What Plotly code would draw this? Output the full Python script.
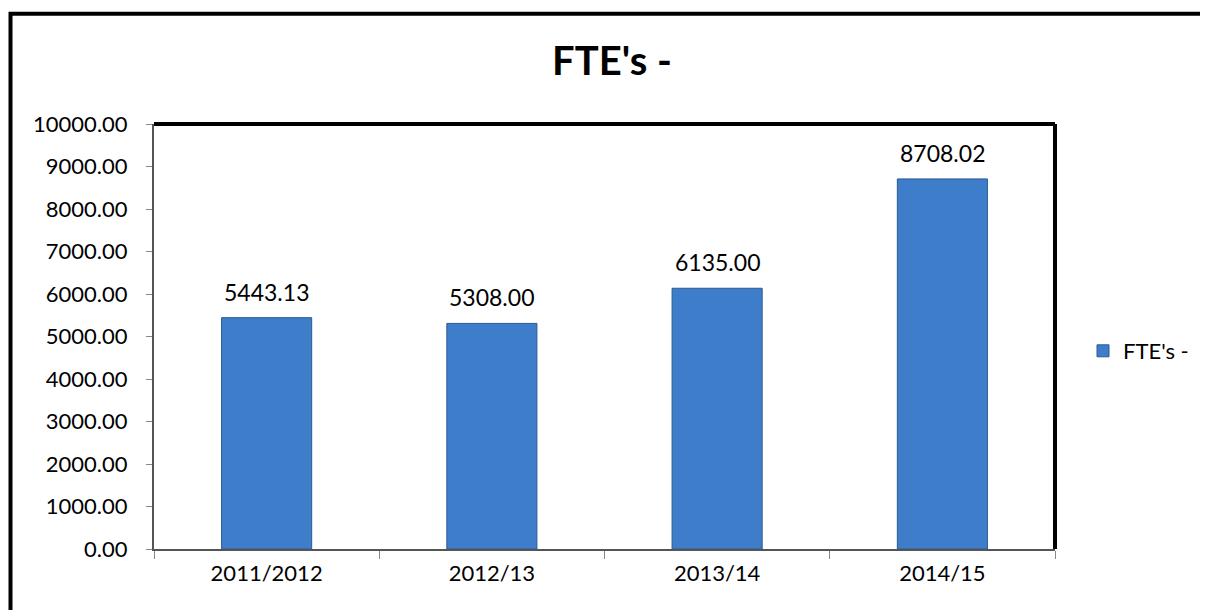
import plotly.graph_objects as go

# data
years = ["2011/2012", "2012/13", "2013/14", "2014/15"]
fte = [5443.13, 5308.00, 6135.00, 8708.02]
y_ticks = [0, 1000, 2000, 3000, 4000, 5000, 6000, 7000, 8000, 9000, 10000]

W, H = 1208, 610
L, R, T, B = 146, 161, 116, 69  # plot area margins in px


def px_x(p):
    return (p - L) / (W - L - R)


def px_y(p):
    return (H - B - p) / (H - T - B)


FONT = "Lato"

fig = go.Figure()
fig.add_trace(go.Bar(
    x=years, y=fte, name="FTE's -",
    marker=dict(color="#3E7DC9", line=dict(color="#2C5A92", width=1)),
    width=0.4,
))

# value labels above each bar
for yr, v in zip(years, fte):
    fig.add_annotation(x=yr, y=v, text=f"{v:.2f}", showarrow=False,
                       yshift=26, font=dict(family=FONT, size=23, color="#000"))

# heavy black frame on top/right of plot area
fig.add_shape(type="line", xref="paper", yref="paper", x0=0, x1=1, y0=1, y1=1,
              line=dict(color="black", width=4))
fig.add_shape(type="line", xref="paper", yref="paper", x0=1, x1=1, y0=0, y1=1,
              line=dict(color="black", width=4))
# outer chart border
fig.add_shape(type="rect", xref="paper", yref="paper",
              x0=px_x(2.5), x1=px_x(1240), y0=px_y(5.7), y1=px_y(650),
              line=dict(color="black", width=4))

fig.update_layout(
    width=W, height=H,
    margin=dict(l=L, r=R, t=T, b=B),
    paper_bgcolor="white", plot_bgcolor="white",
    title=dict(text="<b>FTE's -</b>", x=0.5, xref="container", xanchor="center",
               y=1 - 53 / H, yanchor="middle",
               font=dict(family=FONT, size=40, color="#000")),
    font=dict(family=FONT, size=22, color="#000"),
    showlegend=True,
    legend=dict(x=px_x(1075), y=px_y(343), xanchor="left", yanchor="middle",
                font=dict(family=FONT, size=22, color="#000"),
                itemwidth=30, bgcolor="rgba(0,0,0,0)"),
    bargap=0.6,
)
fig.update_xaxes(
    type="category", showline=True, linecolor="#555", linewidth=2,
    ticks="outside", tickson="boundaries", ticklen=8, tickcolor="#888",
    showgrid=False, tickfont=dict(family=FONT, size=22), ticklabelstandoff=4,
)
fig.update_yaxes(
    range=[0, 10000], tickvals=y_ticks, tickformat=".2f",
    showline=True, linecolor="#555", linewidth=2,
    ticks="outside", ticklen=6, tickcolor="#888",
    showgrid=False, zeroline=False, tickfont=dict(family=FONT, size=22),
    ticklabelstandoff=14,
)

fig.write_html("out.html")
